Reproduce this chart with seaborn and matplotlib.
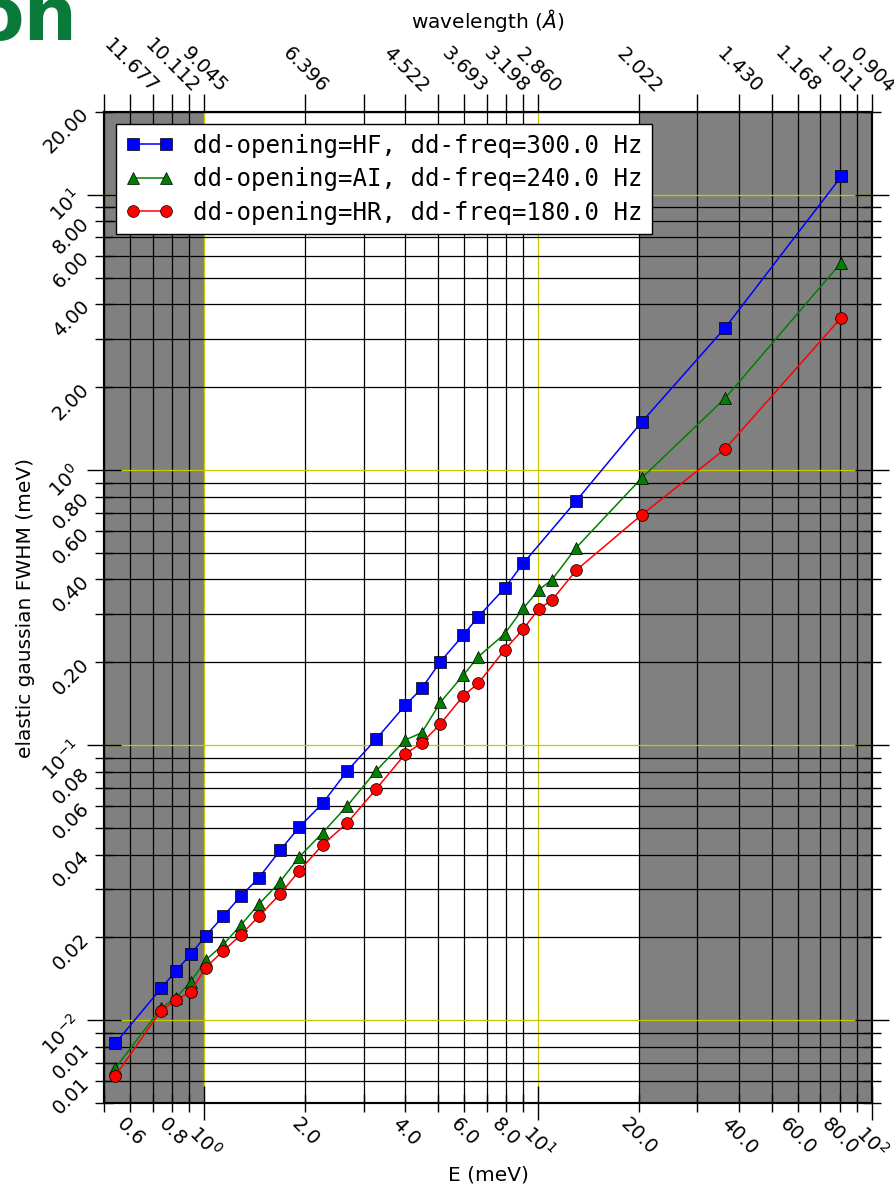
import numpy as np
import pandas as pd
import matplotlib
matplotlib.use("Agg")
import matplotlib.pyplot as plt
import matplotlib.ticker as mticker
import seaborn as sns

sns.set_theme(style="ticks")
plt.rcParams["font.family"] = ["DejaVu Sans"]
plt.rcParams["mathtext.fontset"] = "dejavusans"
plt.rcParams["axes.labelcolor"] = "black"
plt.rcParams["text.color"] = "black"

# ---------------------------------------------------------------
# data
# ---------------------------------------------------------------
energy_hf = [0.540, 0.741, 0.822, 0.909, 1.008, 1.139, 1.284, 1.456, 1.684, 1.924,
             2.259, 2.669, 3.263, 3.993, 4.479, 5.091, 5.966, 6.614, 7.925, 9.019,
             12.99, 20.39, 36.3, 80.9]
fwhm_hf = [0.00823, 0.01304, 0.01511, 0.01734, 0.02025, 0.02388, 0.02825, 0.03293,
           0.04141, 0.05035, 0.06138, 0.0802, 0.1049, 0.1394, 0.1608, 0.2009,
           0.2512, 0.2927, 0.3713, 0.4577, 0.7713, 1.491, 3.284, 11.66]

energy_ai = [0.540, 0.741, 0.822, 0.909, 1.008, 1.139, 1.284, 1.456, 1.684, 1.924,
             2.259, 2.669, 3.263, 3.993, 4.479, 5.091, 5.966, 6.614, 7.925, 9.019,
             10.03, 11.00, 12.99, 20.39, 36.3, 80.9]
fwhm_ai = [0.00668, 0.01105, 0.01209, 0.01378, 0.01653, 0.01885, 0.02215, 0.02641,
           0.03184, 0.03925, 0.04798, 0.05985, 0.0804, 0.1043, 0.1109, 0.1430,
           0.1797, 0.2095, 0.2533, 0.3142, 0.3662, 0.3992, 0.5214, 0.9329, 1.823, 5.673]

energy_hr = energy_ai
fwhm_hr = [0.00626, 0.01082, 0.01182, 0.01267, 0.01554, 0.01786, 0.02038, 0.02388,
           0.02872, 0.03490, 0.04341, 0.05191, 0.06902, 0.09274, 0.1019, 0.1193,
           0.1511, 0.1677, 0.2215, 0.2641, 0.3123, 0.3367, 0.4317, 0.6861, 1.192, 3.580]

series_labels = ["dd-opening=HF, dd-freq=300.0 Hz",
                 "dd-opening=AI, dd-freq=240.0 Hz",
                 "dd-opening=HR, dd-freq=180.0 Hz"]
series_colors = ["#0000ff", "#008000", "#ff0000"]
series_markers = ["s", "^", "o"]

shaded_ranges = [(0.5, 1.0), (20.0, 100.0)]

top_tick_energy = [0.6, 0.8, 1.0, 2.0, 4.0, 6.0, 8.0, 10.0, 20.0, 40.0, 60.0, 80.0, 100.0]
top_tick_labels = ["11.677", "10.112", "9.045", "6.396", "4.522", "3.693", "3.198",
                   "2.860", "2.022", "1.430", "1.168", "1.011", "0.904"]

# ---------------------------------------------------------------
# figure
# ---------------------------------------------------------------
fig = plt.figure(figsize=(8.94, 11.87), dpi=100)
ax = fig.add_axes([104 / 894, 84 / 1187, 768 / 894, 991 / 1187])
ax.set_xscale("log")
ax.set_yscale("log")

for lo, hi in shaded_ranges:
    ax.axvspan(lo, hi, color="#808080", zorder=0, lw=0)

for e, f, lab, col, mk in zip([energy_hf, energy_ai, energy_hr],
                              [fwhm_hf, fwhm_ai, fwhm_hr],
                              series_labels, series_colors, series_markers):
    df = pd.DataFrame({"E": e, "fwhm": f})
    sns.lineplot(data=df, x="E", y="fwhm", ax=ax, color=col, marker=mk, label=lab,
                 markersize=8.5, markeredgecolor="black", markeredgewidth=0.5,
                 linewidth=1.1, estimator=None, sort=False, errorbar=None)

ax.set_xlim(0.5, 100)
ax.set_ylim(0.005, 20)


def minor_fmt(fmt):
    def _f(v, pos):
        m = v / 10 ** np.floor(np.log10(v) + 1e-9)
        return fmt % v if int(round(m)) in (2, 4, 6, 8) else ""
    return mticker.FuncFormatter(_f)


for axis, fmt in ((ax.xaxis, "%.1f"), (ax.yaxis, "%.2f")):
    axis.set_major_locator(mticker.LogLocator(base=10, numticks=20))
    axis.set_minor_locator(mticker.LogLocator(base=10, subs=np.arange(2, 10), numticks=50))
    axis.set_major_formatter(mticker.LogFormatterMathtext())
    axis.set_minor_formatter(minor_fmt(fmt))

ax.set_axisbelow(True)
ax.grid(which="major", color="#c8c800", lw=0.9)
ax.grid(which="minor", color="black", lw=0.9)

ax.tick_params(which="both", direction="inout", labelsize=14, colors="black",
               left=True, right=True, bottom=True, top=False, width=1, pad=1.5)
ax.tick_params(which="major", length=24)
ax.tick_params(which="minor", length=13)
ax.tick_params(axis="x", which="both", labelrotation=-45, pad=1.5)
ax.tick_params(axis="y", which="both", labelrotation=45)

for sp in ax.spines.values():
    sp.set_linewidth(1.5)
    sp.set_color("black")

ax.set_xlabel("E (meV)", fontsize=14.5, labelpad=3)
ax.set_ylabel("elastic gaussian FWHM (meV)", fontsize=14.5, labelpad=2)

leg = ax.legend(loc="upper left", numpoints=2, fancybox=False, framealpha=1,
                edgecolor="black", prop={"family": "DejaVu Sans Mono", "size": 17.3},
                labelspacing=0.4, borderpad=0.4)
leg.get_frame().set_linewidth(1.0)

# top axis: wavelength
ax2 = ax.twiny()
ax2.set_xscale("log")
ax2.set_xlim(ax.get_xlim())
ax2.xaxis.set_major_locator(mticker.FixedLocator(top_tick_energy))
ax2.xaxis.set_major_formatter(mticker.FixedFormatter(top_tick_labels))
ax2.xaxis.set_minor_locator(mticker.LogLocator(base=10, subs=np.arange(2, 10), numticks=50))
ax2.xaxis.set_minor_formatter(mticker.NullFormatter())
ax2.tick_params(which="both", direction="out", length=13, width=1, labelsize=14,
                labelrotation=-45, pad=-2, colors="black")
for sp in ax2.spines.values():
    sp.set_linewidth(1.5)
    sp.set_color("black")
ax2.set_xlabel(r"wavelength ($\AA$)", fontsize=14.5, labelpad=5)

fig.text(78 / 894, 1 - 40 / 1187, "on", fontsize=54, fontweight="bold",
         color="#0a7a3a", ha="right", va="baseline")

fig.savefig("out.png", dpi=100)
